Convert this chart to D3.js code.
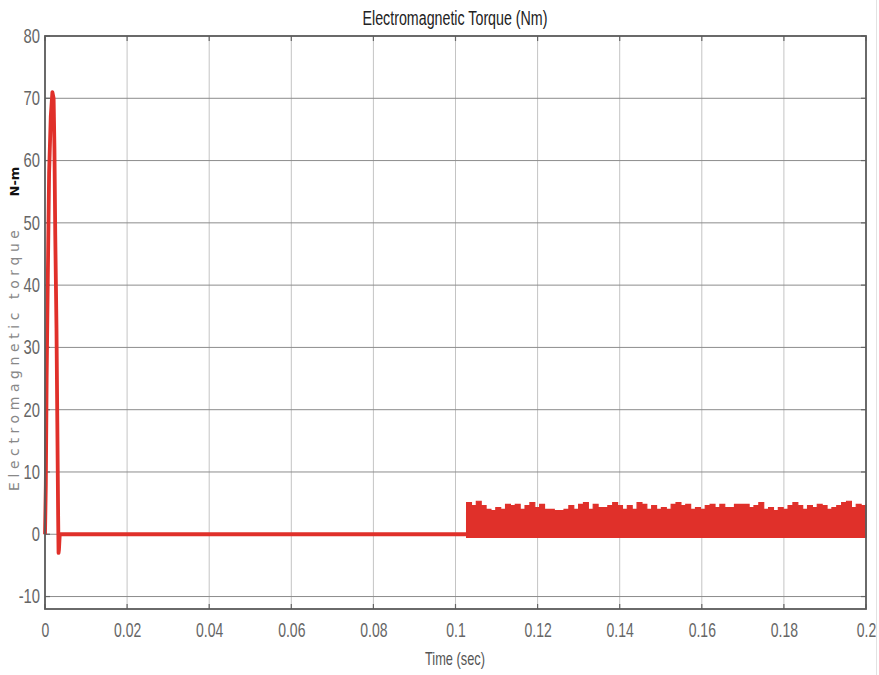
<!DOCTYPE html>
<html lang="en">
<head>
  <meta charset="UTF-8" />
  <title>Electromagnetic Torque (Nm)</title>
  <style>
    body { margin: 0; background: #fff; }
    svg { display: block; }
  </style>
</head>
<body>
  <svg width="879" height="675"></svg>

  <script src="https://d3js.org/d3.v7.min.js"></script>
  <script>
    // start-up transient (time in s, torque in N-m)
    const spikeT = [0, 0.0002, 0.0004, 0.0007, 0.001, 0.0014, 0.0018, 0.0021, 0.0023, 0.0025, 0.0028, 0.003, 0.0032, 0.0033, 0.0034, 0.0036, 0.1027];
    const spikeV = [0, 8, 25, 42, 58, 67, 71, 70, 62, 48, 33, 18, 3, -3, -2.5, 0, 0];

    // loaded region: ripple band, upper envelope
    const bandStart = 0.1027;
    const bandEnd = 0.2;
    const bandTop = [
      5.1, 4.6, 5.3, 4.6, 4.0, 3.8, 4.3, 4.0, 4.8, 4.6, 4.8, 4.0, 4.6, 5.1, 4.3, 4.8, 4.0, 4.0, 3.8, 3.8, 4.0, 4.6, 4.0, 4.8, 5.1, 4.0, 4.8, 4.3, 4.3,
      4.6, 5.1, 4.6, 4.0, 4.6, 4.0, 5.1, 4.8, 4.0, 4.6, 4.0, 4.3, 4.0, 4.8, 5.1, 4.6, 4.8, 4.0, 4.3, 4.0, 4.6, 4.8, 4.3, 4.8, 4.3, 4.3, 4.8, 4.8,
      4.8, 4.3, 4.6, 5.1, 4.0, 4.3, 3.8, 4.3, 4.0, 4.6, 5.1, 4.6, 4.0, 4.6, 4.3, 4.8, 4.6, 4.0, 4.3, 4.6, 5.1, 5.3, 4.3, 4.8, 4.6, 4.8
    ];
    const bandFloor = -0.5;

    const xTicks = [0, 0.02, 0.04, 0.06, 0.08, 0.1, 0.12, 0.14, 0.16, 0.18, 0.2];
    const yTicks = [-10, 0, 10, 20, 30, 40, 50, 60, 70, 80];

    const svg = d3.select("svg");
    const width = +svg.attr("width");
    const height = +svg.attr("height");
    const margin = { top: 36, right: 13, bottom: 66, left: 45 };
    const innerWidth = width - margin.left - margin.right;
    const innerHeight = height - margin.top - margin.bottom;
    const red = "#e0302a";
    const narrow = "'Liberation Sans Narrow', 'Liberation Sans', Arial, sans-serif";

    const x = d3.scaleLinear().domain([0, 0.2]).range([0, innerWidth]);
    const y = d3.scaleLinear().domain([-12, 80]).range([innerHeight, 0]);

    const g = svg.append("g").attr("transform", `translate(${margin.left},${margin.top})`);

    // grid
    g.append("g").selectAll("line").data(xTicks.slice(1, -1)).join("line")
      .attr("x1", d => x(d)).attr("x2", d => x(d))
      .attr("y1", 0).attr("y2", innerHeight)
      .attr("stroke", "#c4c4c4").attr("stroke-width", 1);
    g.append("g").selectAll("line").data(yTicks.slice(0, -1)).join("line")
      .attr("x1", 0).attr("x2", innerWidth)
      .attr("y1", d => y(d)).attr("y2", d => y(d))
      .attr("stroke", "#8c8c8c").attr("stroke-width", 1);

    // inner tick marks on all four sides
    const tickLen = 5;
    const ticks = g.append("g").attr("stroke", "#666").attr("stroke-width", 1.2);
    ticks.selectAll(".tt").data(xTicks).join("line").attr("class", "tt")
      .attr("x1", d => x(d)).attr("x2", d => x(d)).attr("y1", 0).attr("y2", tickLen);
    ticks.selectAll(".tb").data(xTicks).join("line").attr("class", "tb")
      .attr("x1", d => x(d)).attr("x2", d => x(d)).attr("y1", innerHeight).attr("y2", innerHeight - tickLen);
    ticks.selectAll(".tl").data(yTicks).join("line").attr("class", "tl")
      .attr("x1", 0).attr("x2", tickLen).attr("y1", d => y(d)).attr("y2", d => y(d));
    ticks.selectAll(".tr").data(yTicks).join("line").attr("class", "tr")
      .attr("x1", innerWidth).attr("x2", innerWidth - tickLen).attr("y1", d => y(d)).attr("y2", d => y(d));

    // axes (labels only); the source face is very condensed, so squeeze horizontally
    const kx = 0.7, ky = 0.74;
    const xAxis = g.append("g")
      .attr("transform", `translate(0,${innerHeight})`)
      .call(d3.axisBottom(x).tickValues(xTicks).tickFormat(d => String(d)).tickSize(0))
      .attr("font-family", narrow).attr("font-size", 20);
    xAxis.select(".domain").remove();
    xAxis.selectAll("text").attr("y", 28).attr("dy", 0).attr("fill", "#666")
      .attr("transform", `scale(${kx},1)`);

    const yAxis = g.append("g")
      .call(d3.axisLeft(y).tickValues(yTicks).tickFormat(d => String(d)).tickSize(0))
      .attr("font-family", narrow).attr("font-size", 20);
    yAxis.select(".domain").remove();
    yAxis.selectAll("text").attr("x", -5 / ky).attr("fill", "#666")
      .attr("transform", `scale(${ky},1)`);

    // ripple band
    const bandX = d3.scaleLinear().domain([0, bandTop.length - 1]).range([bandStart, bandEnd]);
    const band = d3.area()
      .x((d, i) => x(bandX(i)))
      .y0(y(bandFloor))
      .y1(d => y(d))
      .curve(d3.curveStepAfter);
    g.append("path")
      .datum(bandTop)
      .attr("d", band)
      .attr("fill", red)
      .attr("stroke", red)
      .attr("stroke-width", 1.2);

    // transient + idle line
    const line = d3.line()
      .x((d, i) => x(spikeT[i]))
      .y(d => y(d));
    g.append("path")
      .datum(spikeV)
      .attr("d", line)
      .attr("fill", "none")
      .attr("stroke", red)
      .attr("stroke-width", 3.8)
      .attr("stroke-linejoin", "round");

    // frame
    g.append("rect")
      .attr("width", innerWidth).attr("height", innerHeight)
      .attr("fill", "none").attr("stroke", "#5a5a5a").attr("stroke-width", 1.8);

    // title and axis labels, squeezed to the widths seen in the picture
    function squeezed(px, py, target, size, fill, str) {
      const holder = svg.append("g").attr("transform", `translate(${px},${py})`);
      const t = holder.append("text")
        .attr("font-family", narrow)
        .attr("text-anchor", "middle")
        .attr("font-size", size).attr("fill", fill)
        .text(str);
      const k = target / t.node().getComputedTextLength();
      t.attr("transform", `scale(${k},1)`);
    }
    squeezed(455, 25, 185, 20, "#222", "Electromagnetic Torque (Nm)");
    squeezed(455, 665, 60, 18, "#555", "Time (sec)");

    svg.append("text")
      .attr("transform", "translate(18.5,491) rotate(-90)")
      .attr("font-family", "'DejaVu Sans', Verdana, sans-serif")
      .attr("font-size", 14).attr("fill", "#888")
      .attr("textLength", 261).attr("lengthAdjust", "spacing")
      .text("Electromagnetic torque");

    svg.append("text")
      .attr("transform", "translate(18.5,181.5) rotate(-90)")
      .attr("text-anchor", "middle")
      .attr("font-family", "'DejaVu Sans', Verdana, sans-serif")
      .attr("font-size", 13).attr("font-weight", "bold").attr("fill", "#111")
      .text("N-m");

    // faint screenshot edge on the right
    svg.append("line")
      .attr("x1", 876.5).attr("x2", 876.5).attr("y1", 0).attr("y2", height)
      .attr("stroke", "#e2e2e2").attr("stroke-width", 1);
  </script>
</body>
</html>
